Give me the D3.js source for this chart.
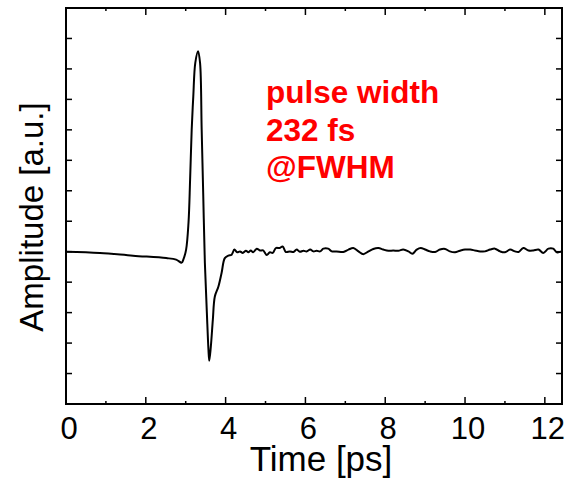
<!DOCTYPE html>
<html>
<head>
<meta charset="utf-8">
<script src="https://cdn.jsdelivr.net/npm/d3@7"></script>
<style>
  body { margin: 0; background: #fff; }
  svg { display: block; font-family: "Liberation Sans", Arial, sans-serif; }
</style>
</head>
<body>
<div id="chart"></div>
<script>
// time axis [ps] and amplitude [a.u.]
const timePs = [
  0, 0.85, 1.68, 2.51, 2.76, 2.90, 2.94, 3.01, 3.07, 3.11, 3.15, 3.19, 3.24, 3.31,
  3.36, 3.40, 3.44, 3.48, 3.53, 3.57, 3.59, 3.63, 3.68, 3.73, 3.82, 3.90, 3.98,
  4.07, 4.15, 4.22, 4.29, 4.36, 4.43, 4.51, 4.57, 4.63, 4.69, 4.78, 4.86, 4.94,
  5.03, 5.11, 5.18, 5.26, 5.35, 5.43, 5.51, 5.61, 5.70, 5.78, 5.86, 5.95, 6.03,
  6.12, 6.20, 6.28, 6.37, 6.45, 6.57, 6.66, 6.78, 6.95, 7.08, 7.20, 7.33, 7.45,
  7.58, 7.70, 7.83, 7.95, 8.08, 8.20, 8.33, 8.45, 8.58, 8.68, 8.79, 8.89, 9.00,
  9.12, 9.25, 9.37, 9.50, 9.62, 9.75, 9.87, 10.00, 10.13, 10.25, 10.38, 10.50,
  10.63, 10.75, 10.88, 11.00, 11.13, 11.25, 11.34, 11.46, 11.59, 11.71, 11.84,
  11.96, 12.09, 12.21, 12.30, 12.42
];
const amplitude = [
  0, -0.04, -0.13, -0.21, -0.26, -0.36, -0.26, 0.07, 0.95, 2.36, 4.01, 5.10, 6.20, 6.58,
  6.19, 4.01, 1.82, -0.36, -2.00, -3.22, -3.58, -3.11, -2.23, -1.47, -1.14, -0.69, -0.21,
  -0.13, -0.10, 0.07, -0.02, 0.01, -0.04, 0.03, -0.02, 0.04, -0.02, 0.10, 0.04, 0.04,
  -0.11, -0.02, -0.04, 0.12, 0.12, 0.17, -0.01, 0.01, -0.01, 0.07, 0.00, 0.03, 0.01,
  0.07, 0.01, 0.03, 0.01, 0.10, 0.10, 0.01, 0.01, -0.01, 0.07, 0.12, 0.01, -0.08,
  0.01, 0.09, 0.12, 0.07, 0.03, 0.04, 0.03, 0.07, 0.01, -0.07, 0.07, 0.12, 0.07,
  0.01, -0.01, 0.07, 0.09, 0.01, -0.02, 0.03, 0.07, 0.07, 0.04, 0.01, 0.01,
  0.07, 0.10, 0.01, -0.02, 0.07, 0.01, -0.01, 0.12, 0.04, 0.04, 0.07,
  -0.04, 0.10, 0.10, -0.02, 0.01
];
const xDomain = [0, 12.43];
const yDomain = [-5, 8];
const xLabelTicks = [0, 2, 4, 6, 8, 10, 12];
const xMinorTicks = [1, 3, 5, 7, 9, 11];
const yTicks = [-4, -3, -2, -1, 0, 1, 2, 3, 4, 5, 6, 7];
const noteLines = ["pulse width", "232 fs", "@FWHM"];

const W = 568, H = 478;
const margin = {top: 8, right: 6, bottom: 74, left: 66};
const width = W - margin.left - margin.right;
const height = H - margin.top - margin.bottom;

const svg = d3.select('#chart').append('svg')
  .attr('width', W).attr('height', H);
const g = svg.append('g')
  .attr('transform', `translate(${margin.left},${margin.top})`);

const x = d3.scaleLinear().domain(xDomain).range([0, width]);
const y = d3.scaleLinear().domain(yDomain).range([height, 0]);

// inward ticks on all four sides
const tickLen = 7, minorLen = 3;
const axes = g.append('g').attr('stroke', '#000').attr('stroke-width', 1.5);
xLabelTicks.forEach(t => {
  axes.append('line').attr('x1', x(t)).attr('x2', x(t)).attr('y1', height).attr('y2', height - tickLen);
  axes.append('line').attr('x1', x(t)).attr('x2', x(t)).attr('y1', 0).attr('y2', tickLen);
});
xMinorTicks.forEach(t => {
  axes.append('line').attr('x1', x(t)).attr('x2', x(t)).attr('y1', height).attr('y2', height - minorLen);
  axes.append('line').attr('x1', x(t)).attr('x2', x(t)).attr('y1', 0).attr('y2', minorLen);
});
yTicks.forEach(v => {
  axes.append('line').attr('x1', 0).attr('x2', 6).attr('y1', y(v)).attr('y2', y(v));
  axes.append('line').attr('x1', width).attr('x2', width - 6).attr('y1', y(v)).attr('y2', y(v));
});

g.append('rect')
  .attr('width', width).attr('height', height)
  .attr('fill', 'none').attr('stroke', '#000').attr('stroke-width', 2);

// tick labels
g.append('g').selectAll('text')
  .data(xLabelTicks)
  .enter().append('text')
  .attr('x', d => x(d) + 3)
  .attr('y', height + 35)
  .attr('text-anchor', 'middle')
  .attr('font-size', 31)
  .text(d => d);

// trace
const line = d3.line()
  .x((d, i) => x(timePs[i]))
  .y(d => y(d))
  .curve(d3.curveCatmullRom.alpha(0.5));

g.append('path')
  .datum(amplitude)
  .attr('d', line)
  .attr('fill', 'none')
  .attr('stroke', '#000')
  .attr('stroke-width', 2)
  .attr('stroke-linejoin', 'round');

// axis titles
svg.append('text')
  .attr('x', 321).attr('y', 471)
  .attr('text-anchor', 'middle')
  .attr('font-size', 35)
  .text('Time [ps]');

svg.append('text')
  .attr('transform', 'translate(43,217) rotate(-90)')
  .attr('text-anchor', 'middle')
  .attr('font-size', 33)
  .text('Amplitude [a.u.]');

// annotation
svg.append('g').selectAll('text')
  .data(noteLines)
  .enter().append('text')
  .attr('x', 266)
  .attr('y', (d, i) => 103 + i * 37.5)
  .attr('fill', '#ff0000')
  .attr('font-weight', 'bold')
  .attr('font-size', 31.5)
  .text(d => d);
</script>
</body>
</html>
